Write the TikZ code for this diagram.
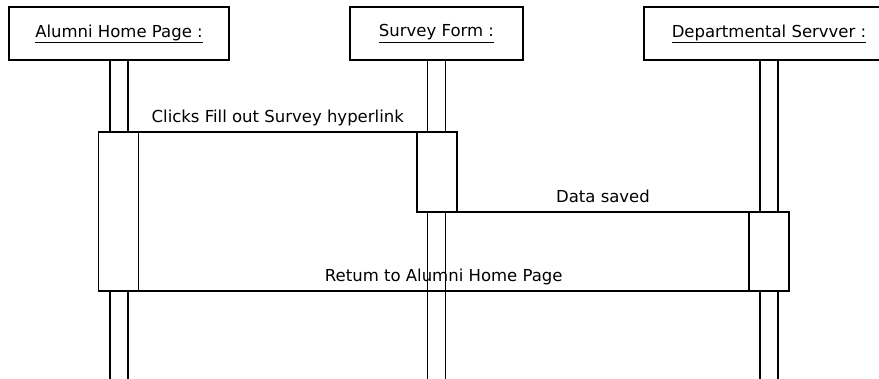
\documentclass[tikz,border=0pt]{standalone}
\usepackage{fontspec}
\setmainfont{DejaVu Sans}
\usetikzlibrary{positioning,calc}

\begin{document}
\begin{tikzpicture}[
    x=1pt, y=-1pt,
    every node/.style={inner sep=0pt, outer sep=0pt},
    object/.style={rectangle, draw, line width=1.2pt, minimum height=53pt, text centered, font=\fontsize{16.5}{18}\selectfont},
    lifeline/.style={rectangle, draw, line width=1.2pt, minimum width=18pt, minimum height=330pt},
    activation/.style={rectangle, draw, fill=white, line width=1.2pt, minimum width=40pt},
    message/.style={line width=1.2pt},
    msglabel/.style={midway, above=9pt, text depth=0pt, font=\fontsize{16.5}{18}\selectfont}
]
\useasboundingbox (0,0) rectangle (879,379);
\clip (0,0) rectangle (879,379);

% Objects
\node[object, minimum width=220pt] (alumni) at (119,33.5) {\raisebox{3pt}{\underline{Alumni Home Page :}}};
\node[object, minimum width=173pt] (survey) at (436.5,33.5) {\raisebox{3pt}{\underline{Survey Form :}}};
\node[object, minimum width=250pt] (server) at (769,33.5) {\raisebox{3pt}{\underline{Departmental Servver :}}};

% Lifelines
\node[lifeline, below=0pt of alumni] (alumniline) {};
\node[lifeline, below=0pt of survey] (surveyline) {};
\node[lifeline, below=0pt of server] (serverline) {};

% Activations
\node[activation, minimum height=159pt] (alumniact) at (118.5,211.5) {};
\node[activation, minimum height=80pt] (surveyact) at (437,172) {};
\node[activation, minimum height=79pt] (serveract) at (769,251.5) {};

% Messages
\draw[message] (alumniact.north east) -- (surveyact.north west)
    node[msglabel] (clicks) {Clicks Fill out Survey hyperlink};
\draw[message] (surveyact.south east) -- (serveract.north west)
    node[msglabel] (saved) {Data saved};
\draw[message] (serveract.south west) -- (alumniact.south east)
    node[msglabel] (return) {Retum to Alumni Home Page};

\end{tikzpicture}
\end{document}
